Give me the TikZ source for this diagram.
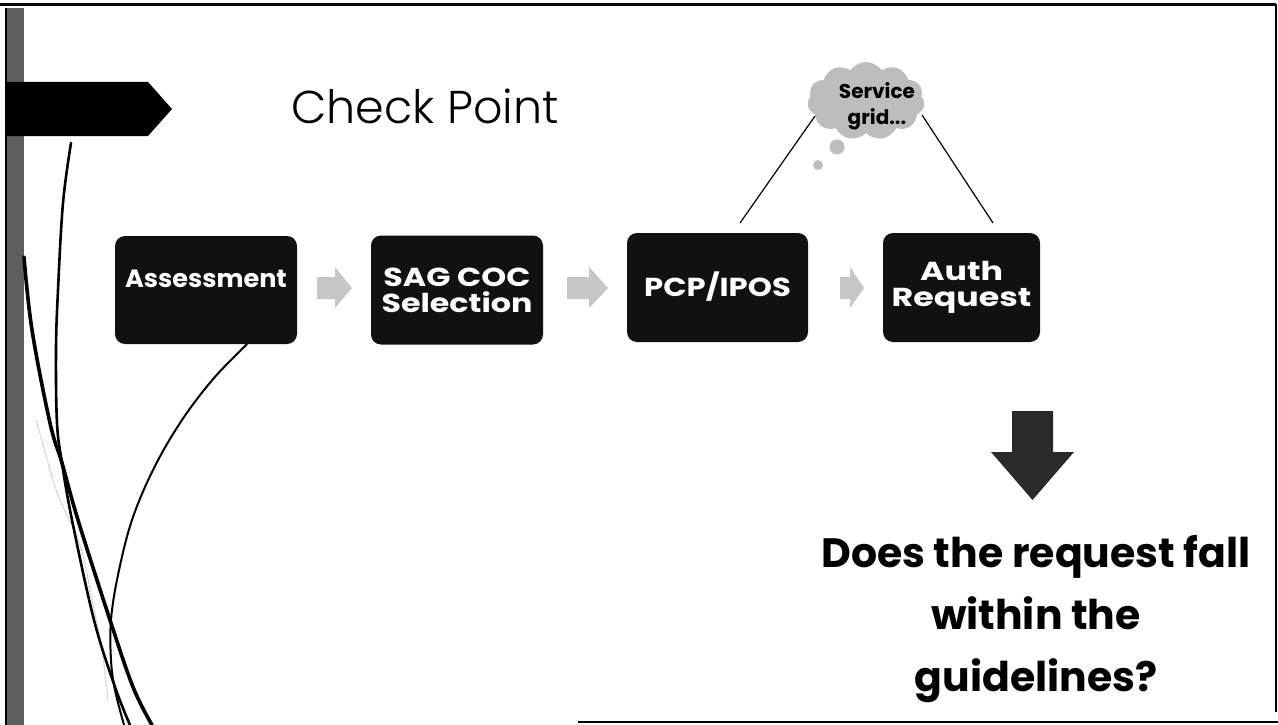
\documentclass[tikz,border=0pt]{standalone}
\usepackage{fontspec}
\setmainfont{Poppins}
\newfontfamily\lightfont{Poppins Light}
\usetikzlibrary{shapes.symbols,calc}
\definecolor{boxblack}{HTML}{111111}
\definecolor{bargray}{HTML}{5E5E5E}
\definecolor{arrowgray}{HTML}{C6C6C6}
\definecolor{cloudgray}{HTML}{BDBDBD}
\definecolor{darkarrow}{HTML}{2A2A2A}
% bold box lettering: size, line skip, horizontal stretch
\newcommand{\boxfont}[3]{\bfseries\fontsize{#1}{#2}\selectfont\addfontfeatures{FakeStretch=#3}}
\begin{document}
\begin{tikzpicture}[x=1pt,y=-1pt,
  stepbox/.style={fill=boxblack, rounded corners=10pt, text=white,
    align=center, inner sep=0pt},
  flowarrow/.style={fill=arrowgray},
  callout/.style={draw=black, line width=1.2pt},
  swoosh/.style={draw=black, line cap=round}]
\useasboundingbox (0,0) rectangle (1278,725);

% slide frame
\draw[line width=3pt] (0,4.5) -- (1276,4.5);
\draw[line width=1.2pt] (1276,4) -- (1276,712);
\draw[line width=2pt] (578,722) -- (1278,722);

% left bar and title tab
\fill[bargray] (6,8) rectangle (24,725);
\draw[line width=1.5pt] (6,8) -- (6,725);
\fill[black] (5,82) -- (148,82) -- (172,109) -- (148,136) -- (5,136) -- cycle;

% decorative swooshes
\draw[gray!60, line width=1pt, densely dotted] plot[smooth, tension=0.6] coordinates
  {(36,420) (46,455) (58,495) (80,545) (92,600) (102,650) (108,700)};
\draw[swoosh, line width=3.6pt] plot[smooth, tension=0.6] coordinates
  {(24,257) (32,330) (50,423) (62,463) (78,520) (110,620) (133,687) (152,725)};
\draw[swoosh, line width=2.6pt] plot[smooth, tension=0.6] coordinates
  {(71,143) (63,203) (58,290) (56,350) (57,423) (62,463) (72,520) (94,620) (115,687) (130,725)};

% title
\node[font=\lightfont\fontsize{46}{50}\selectfont, anchor=base, inner sep=0pt] (title) at (425,123) {Check Point};

% process steps
\node[stepbox, minimum width=182pt, minimum height=108pt, text depth=22pt,
  font=\boxfont{25}{25}{1.02}] (assess) at (206,290) {Assessment};
\node[stepbox, minimum width=172pt, minimum height=109pt,
  font=\boxfont{26}{26}{1.22}] (sag) at (457,290) {SAG COC\\Selection};
\node[stepbox, minimum width=181pt, minimum height=109pt, text depth=7pt,
  font=\boxfont{26}{25}{1.18}] (pcp) at (717.5,287.5) {PCP/IPOS};
\node[stepbox, minimum width=157pt, minimum height=109pt,
  font=\boxfont{26}{26}{1.28}] (auth) at (961.5,287.5) {Auth\\Request};

% arc from the assessment box
\coordinate (arcstart) at ($(assess.south)+(41,0)$);
\draw[swoosh, line width=2pt] plot[smooth, tension=0.6] coordinates
  {(arcstart) (214,378) (182,420) (154,468) (132,520) (118,575) (111,620) (111,660) (115,690) (124,725)};

% flow arrows between the steps
\fill[flowarrow] (317,277) -- (335,277) -- (335,267) -- (352,288) -- (335,308) -- (335,299) -- (317,299) -- cycle;
\fill[flowarrow] (567,277) -- (589,277) -- (589,267) -- (608,288) -- (589,308) -- (589,299) -- (567,299) -- cycle;
\fill[flowarrow] (840,277) -- (850,277) -- (850,267) -- (864,288) -- (850,308) -- (850,299) -- (840,299) -- cycle;

% thought cloud
\node[cloud, cloud puffs=11, cloud puff arc=110, aspect=1.5, fill=cloudgray, draw=none,
  minimum width=117pt, minimum height=78pt, inner sep=0pt] (cloudbg) at (866,101) {};
\fill[cloudgray] (837,147) circle[radius=7.5pt];
\fill[cloudgray] (818,165) circle[radius=5pt];
\node[font=\bfseries\fontsize{20}{26}\selectfont, align=center, inner sep=0pt] (grid) at (877,106) {Service\\grid...};
\coordinate (cl) at (815,116);
\coordinate (cr) at (922,115);
\coordinate (pl) at (740,223);
\coordinate (ar) at (993,223);
\draw[callout] (cl) -- (pl);
\draw[callout] (cr) -- (ar);

% down arrow and question
\fill[darkarrow] (1012,411) -- (1053,411) -- (1053,452) -- (1074,452) -- (1032.5,500) -- (991,452) -- (1012,452) -- cycle;
\node[font=\bfseries\fontsize{41}{62}\selectfont, align=center, inner sep=0pt] (question) at (1036,619)
  {Does the request fall\\within the\\guidelines?};
\end{tikzpicture}
\end{document}
